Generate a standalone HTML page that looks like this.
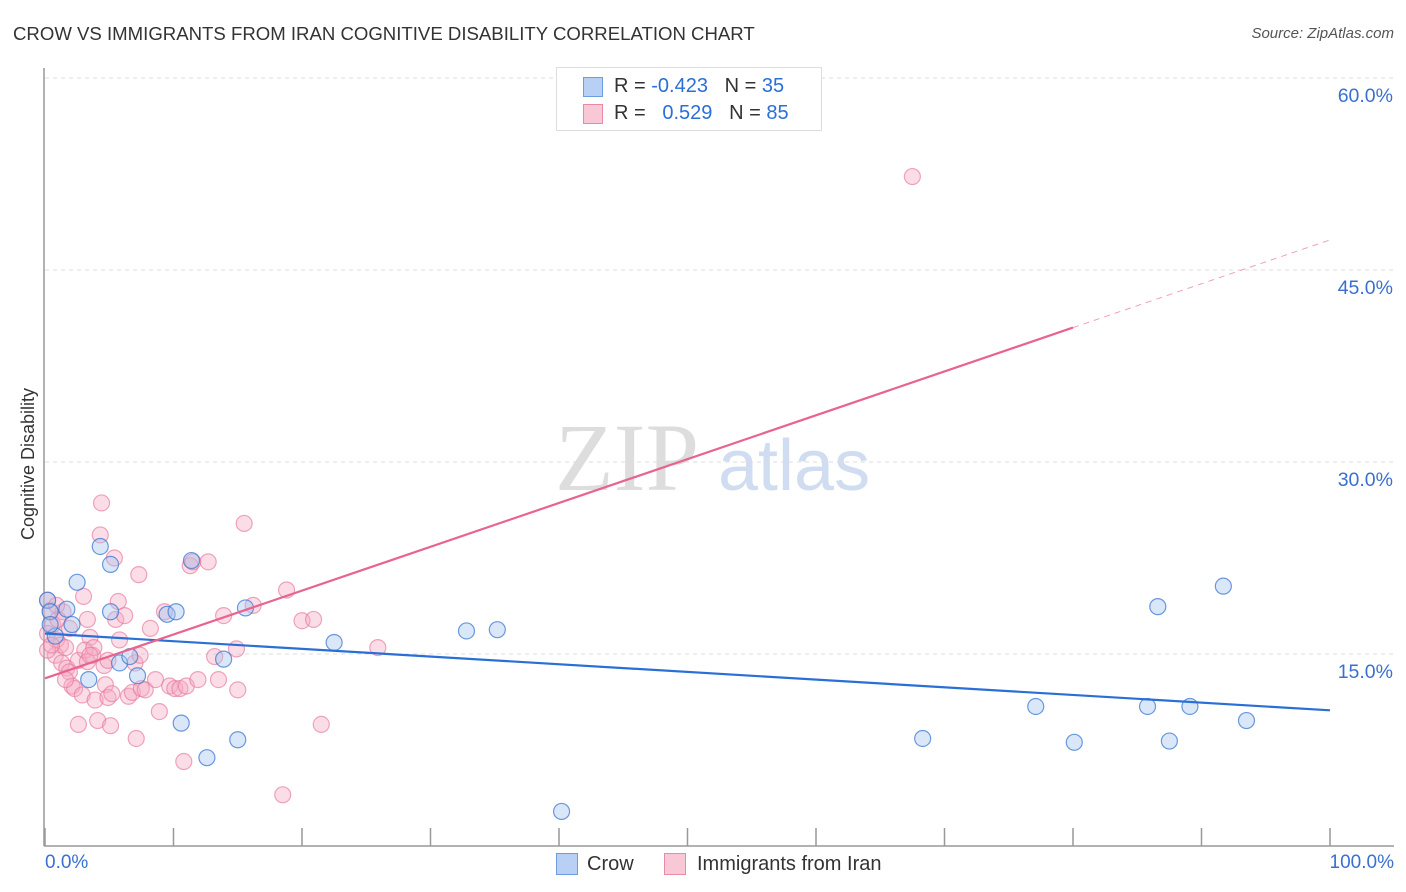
<!DOCTYPE html>
<html><head><meta charset="utf-8"><style>
body{margin:0;background:#fff;font-family:"Liberation Sans",sans-serif;}
#wrap{position:relative;width:1406px;height:892px;overflow:hidden;}
.t{position:absolute;white-space:nowrap;}
</style></head><body>
<div id="wrap">
<div class="t" style="left:13px;top:23px;font-size:18.6px;color:#333;">CROW VS IMMIGRANTS FROM IRAN COGNITIVE DISABILITY CORRELATION CHART</div>
<div class="t" style="right:12px;top:25px;font-size:15px;color:#555;font-style:italic;">Source: ZipAtlas.com</div>
<svg id="svg" width="1406" height="892" style="position:absolute;left:0;top:0"></svg>
</div>
<script>
const crowX=[0.2,0.4,1.7,2.5,2.1,4.3,5.1,5.1,5.8,6.6,7.2,3.4,0.8,9.5,10.2,11.4,13.9,15.6,10.6,12.6,15.0,22.5,32.8,35.2,40.2,68.3,77.1,80.1,85.8,86.6,89.1,87.5,91.7,93.5,0.4];
const crowY=[19.2,18.3,18.5,20.6,17.3,23.4,22.0,18.3,14.3,14.8,13.3,13.0,16.4,18.1,18.3,22.3,14.6,18.6,9.6,6.9,8.3,15.9,16.8,16.9,2.7,8.4,10.9,8.1,10.9,18.7,10.9,8.2,20.3,9.8,17.3];
const iranX=[0.2,0.4,0.6,0.2,0.9,1.2,0.8,1.3,1.7,1.9,2.1,2.3,2.6,2.9,3.0,3.3,3.5,3.7,3.9,4.1,4.4,4.3,4.6,4.7,4.9,5.1,5.2,5.4,5.5,5.7,5.8,6.5,6.8,7.0,7.1,7.3,7.5,7.8,8.2,8.6,8.9,9.3,9.7,10.1,10.5,10.8,11.0,11.3,11.5,11.9,12.7,13.2,13.5,13.9,15.0,14.9,15.5,16.2,18.5,18.8,20.0,20.9,21.5,25.9,67.5,2.6,4.9,1.4,1.0,1.6,3.1,3.8,1.9,0.9,0.2,0.5,3.3,6.2,7.4,1.6,3.5];
const iranY=[19.2,18.4,17.3,16.6,16.1,15.7,14.9,14.3,13.9,13.6,12.5,12.3,14.5,11.8,19.5,17.7,16.3,14.9,11.4,9.8,26.8,24.3,14.1,12.6,11.6,9.4,11.9,22.5,17.7,19.1,16.1,11.7,12.0,14.3,8.4,21.2,12.3,12.2,17.0,13.0,10.5,18.3,12.5,12.3,12.3,6.6,12.5,21.9,22.2,13.0,22.2,14.8,13.0,18.0,12.2,15.4,25.2,18.8,4.0,20.0,17.6,17.7,9.5,15.5,52.3,9.5,14.5,18.3,17.7,15.5,15.3,15.5,17.0,18.8,15.3,15.7,14.4,18.0,14.9,13.0,14.9];
const crowTrend=[16.6,10.6]; // y at x=0, x=100
const iranTrend=[13.1,0.3425,80]; // intercept, slope, solid end x
const yTicks=[15,30,45,60];
const sx=v=>45+v*12.85, sy=v=>846-v*12.8;
const svg=document.getElementById('svg');const NS='http://www.w3.org/2000/svg';
function mk(tag,a){const e=document.createElementNS(NS,tag);for(const k in a)e.setAttribute(k,a[k]);svg.appendChild(e);return e;}
yTicks.forEach(v=>{const l=mk('line',{x1:45,x2:1394,y1:sy(v),y2:sy(v),stroke:'#ddd','stroke-dasharray':'4,4'});


const t=mk('text',{x:1393,y:sy(v)+24,'text-anchor':'end','font-size':19.5,fill:'#3a70d0','font-family':'Liberation Sans'});t.textContent=v.toFixed(1)+'%';

});
mk('line',{x1:44,x2:44,y1:68,y2:846,stroke:'#999','stroke-width':1.5});
mk('line',{x1:44,x2:1394,y1:846,y2:846,stroke:'#999','stroke-width':1.5});
for(let i=0;i<=10;i++){mk('line',{x1:45+i*128.5,x2:45+i*128.5,y1:828,y2:846,stroke:'#999','stroke-width':1.5});}
let w=mk('text',{x:555,y:490,'font-size':96,fill:'#ddd','font-family':'Liberation Serif'});w.textContent='ZIP';

w=mk('text',{x:718,y:490,'font-size':72,fill:'#d0ddf0','font-family':'Liberation Sans'});w.textContent='atlas';

iranX.forEach((x,i)=>{const c=mk('circle',{cx:sx(x),cy:sy(iranY[i]),r:8,fill:'rgba(246,170,195,0.4)',stroke:'rgba(230,120,155,0.65)','stroke-width':1.2});

});
crowX.forEach((x,i)=>{const c=mk('circle',{cx:sx(x),cy:sy(crowY[i]),r:8,fill:'rgba(160,195,240,0.4)',stroke:'rgba(60,120,210,0.75)','stroke-width':1.2});

});
let l=mk('line',{x1:sx(0),y1:sy(crowTrend[0]),x2:sx(100),y2:sy(crowTrend[1]),stroke:'#2a6fd6','stroke-width':2.2});

l=mk('line',{x1:sx(0),y1:sy(iranTrend[0]),x2:sx(iranTrend[2]),y2:sy(iranTrend[0]+iranTrend[1]*iranTrend[2]),stroke:'#e8648f','stroke-width':2.2});

l=mk('line',{x1:sx(iranTrend[2]),y1:sy(iranTrend[0]+iranTrend[1]*iranTrend[2]),x2:sx(100),y2:sy(iranTrend[0]+iranTrend[1]*100),stroke:'#f0a0b8','stroke-width':1,'stroke-dasharray':'6,5'});

</script>
<div class="t" style="left:18px;top:540px;transform:rotate(-90deg);transform-origin:0 0;font-size:18px;color:#333;">Cognitive Disability</div>
<div class="t" style="left:45px;top:852px;font-size:19px;color:#3a70d0;">0.0%</div>
<div class="t" style="right:12px;top:852px;font-size:19px;color:#3a70d0;">100.0%</div>
<div style="position:absolute;left:556px;top:67px;width:264px;height:62px;border:1px solid #ddd;background:#fff;font-size:20px;color:#333;">
 <div style="position:absolute;left:26px;top:9px;width:18px;height:18px;background:#b8d0f4;border:1px solid #6b9ee0;"></div>
 <div class="t" style="left:57px;top:7px;">R = <span style="color:#2a6fd6">-0.423</span>&nbsp;&nbsp;&nbsp;N = <span style="color:#2a6fd6">35</span></div>
 <div style="position:absolute;left:26px;top:36px;width:18px;height:18px;background:#f8c8d6;border:1px solid #e88aa8;"></div>
 <div class="t" style="left:57px;top:34px;">R = &nbsp;&nbsp;<span style="color:#2a6fd6">0.529</span>&nbsp;&nbsp;&nbsp;N = <span style="color:#2a6fd6">85</span></div>
</div>
<div style="position:absolute;left:556px;top:853px;width:20px;height:20px;background:#b8d0f4;border:1px solid #6b9ee0;"></div>
<div class="t" style="left:587px;top:853px;font-size:20px;color:#333;">Crow</div>
<div style="position:absolute;left:664px;top:853px;width:20px;height:20px;background:#f8c8d6;border:1px solid #e88aa8;"></div>
<div class="t" style="left:697px;top:853px;font-size:20px;color:#333;">Immigrants from Iran</div>
</body></html>
